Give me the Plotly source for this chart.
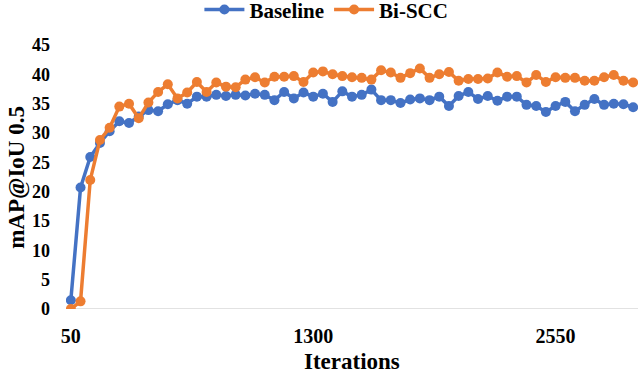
import plotly.graph_objects as go

iterations = list(range(50, 3000, 50))

baseline = [1.5, 20.7, 25.9, 28.3, 30.3, 32.0, 31.7, 32.8, 33.9, 33.7,
            34.9, 35.6, 35.0, 36.2, 36.2, 36.5, 36.3, 36.5, 36.4, 36.7,
            36.5, 35.6, 37.0, 35.9, 36.9, 36.2, 36.7, 35.3, 37.1, 36.2,
            36.5, 37.4, 35.6, 35.6, 35.1, 35.7, 35.9, 35.6, 36.2, 34.6,
            36.3, 37.0, 35.8, 36.3, 35.5, 36.2, 36.2, 34.8, 34.6, 33.6,
            34.6, 35.3, 33.7, 34.8, 35.8, 34.8, 35.0, 34.9, 34.4]

bi_scc = [0.0, 1.3, 22.0, 28.8, 30.9, 34.5, 35.0, 32.5, 35.2, 37.0,
          38.3, 35.9, 36.9, 38.7, 37.0, 38.6, 37.9, 37.8, 39.1, 39.5,
          38.6, 39.6, 39.6, 39.7, 38.7, 40.3, 40.5, 40.0, 39.7, 39.5,
          39.4, 39.1, 40.7, 40.3, 39.4, 40.2, 41.0, 39.4, 40.0, 40.4,
          38.9, 39.2, 39.2, 39.3, 40.3, 39.6, 39.7, 38.6, 39.9, 38.7,
          39.5, 39.4, 39.4, 38.9, 38.9, 39.5, 39.9, 38.9, 38.6]

x_ticks = [50, 1300, 2550]
y_ticks = [0, 5, 10, 15, 20, 25, 30, 35, 40, 45]

serif = "Liberation Serif"

fig = go.Figure()
fig.add_trace(go.Scatter(x=iterations, y=baseline, name="Baseline", mode="lines+markers",
                         line=dict(color="#4472C4", width=3.5),
                         marker=dict(size=10, color="#4472C4")))
fig.add_trace(go.Scatter(x=iterations, y=bi_scc, name="Bi-SCC", mode="lines+markers",
                         line=dict(color="#ED7D31", width=3.5),
                         marker=dict(size=10, color="#ED7D31")))

fig.update_layout(
    width=640, height=373,
    margin=dict(l=66, r=2, t=45, b=64, autoexpand=False),
    plot_bgcolor="white", paper_bgcolor="white",
    font=dict(family=serif, color="black"),
    showlegend=True,
    legend=dict(orientation="h", x=0.51, xanchor="center", xref="container",
                y=1.133, yanchor="middle", yref="paper", itemwidth=40,
                font=dict(family=serif, size=21, weight="bold"), traceorder="normal"),
    xaxis=dict(range=[25, 2975], tickvals=x_ticks, ticktext=[str(v) for v in x_ticks],
               showgrid=False, zeroline=False, showline=False, ticks="",
               ticklabelstandoff=13, automargin=False,
               tickfont=dict(family=serif, size=20, weight="bold")),
    yaxis=dict(range=[0, 45], tickvals=y_ticks, showgrid=False, zeroline=False,
               showline=False, ticks="", ticklabelstandoff=15, automargin=False,
               tickfont=dict(family=serif, size=18, weight="bold")),
    annotations=[
        dict(text="mAP@IoU 0.5", textangle=-90, xref="paper", yref="paper",
             x=-0.086, y=0.5, xanchor="center", yanchor="middle", showarrow=False,
             font=dict(family=serif, size=23, weight="bold")),
        dict(text="Iterations", xref="paper", yref="paper",
             x=0.5, y=-0.2, xanchor="center", yanchor="middle", showarrow=False,
             font=dict(family=serif, size=23, weight="bold")),
    ],
    shapes=[dict(type="line", xref="paper", yref="y", x0=0, x1=1, y0=0, y1=0,
                 line=dict(color="#D9D9D9", width=1.5), layer="below")],
)

# page has a default 8px body margin, drop it so the figure fills the window
fig.write_html("out.html", config={"displayModeBar": False},
               post_script="document.body.style.margin='0';")
